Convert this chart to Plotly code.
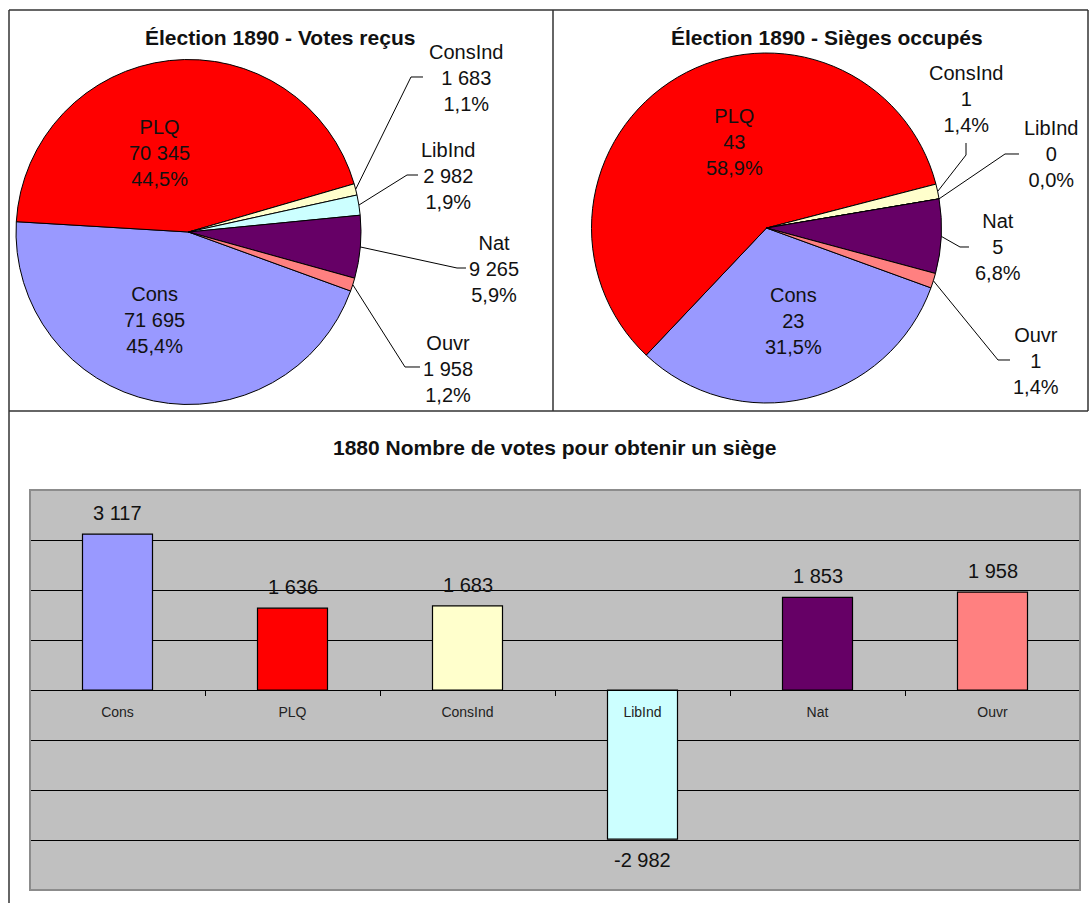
import math
import plotly.graph_objects as go

W, H = 1090, 903

# ---------------- data ----------------
parties = ["Cons", "PLQ", "ConsInd", "LibInd", "Nat", "Ouvr"]
votes = [71695, 70345, 1683, 2982, 9265, 1958]
seats = [23, 43, 1, 0, 5, 1]
votes_per_seat = [3117, 1636, 1683, -2982, 1853, 1958]
colors = ["#9999FF", "#FF0000", "#FFFFCC", "#CCFFFF", "#660066", "#FF8080"]

title_votes = "Élection 1890 - Votes reçus"
title_seats = "Élection 1890 - Sièges occupés"
title_bars = "1880 Nombre de votes pour obtenir un siège"

# ---------------- style / layout ----------------
FONT = "Liberation Sans, Arial, Helvetica, sans-serif"
TXT = "#111111"
ROT = 110


def fx(px):
    return px / W


def fy(py):
    return 1 - py / H


def fmt_int(v):
    return f"{v:,}".replace(",", " ")


def fmt_pct(v, tot):
    return f"{100 * v / tot:.1f}".replace(".", ",") + "%"


# pie geometry in pixels + label placement (text centre, leader path after edge point)
pies = [
    dict(values=votes, cx=188.5, cy=232, r=172.5, title=title_votes, tx=280, ty=37,
         labels={
             "Cons": (154, 320, None),
             "PLQ": (159, 153, None),
             "ConsInd": (466, 78, [(411, 77), (423, 77)]),
             "LibInd": (448, 176, [(407, 175), (418, 175)]),
             "Nat": (494, 269, [(457, 268), (466, 268)]),
             "Ouvr": (448, 369, [(405, 367), (420, 367)]),
         }),
    dict(values=seats, cx=766.5, cy=228, r=175, title=title_seats, tx=827, ty=37,
         labels={
             "Cons": (793, 321, None),
             "PLQ": (734, 142, None),
             "ConsInd": (966, 99, [(966, 155), (966, 143)]),
             "LibInd": (1051, 154, [(1005, 154), (1019, 154)]),
             "Nat": (998, 247, [(960, 247), (969, 247)]),
             "Ouvr": (1036, 361, [(998, 360), (1010, 360)]),
         }),
]

fig = go.Figure()
annotations = []
shapes = []

for p in pies:
    cx, cy, r = p["cx"], p["cy"], p["r"]
    fig.add_trace(go.Pie(
        labels=parties, values=p["values"], sort=False, direction="clockwise",
        rotation=ROT, textinfo="none", showlegend=False,
        marker=dict(colors=colors, line=dict(color="#000000", width=1)),
        domain=dict(x=[fx(cx - r), fx(cx + r)], y=[fy(cy + r), fy(cy - r)]),
    ))
    annotations.append(dict(
        text=f"<b>{p['title']}</b>", x=fx(p["tx"]), y=fy(p["ty"]), xref="paper", yref="paper",
        xanchor="center", yanchor="middle", showarrow=False,
        font=dict(family=FONT, size=21, color=TXT)))
    tot = sum(p["values"])
    acc = 0
    for name, v in zip(parties, p["values"]):
        mid = math.radians(ROT + 360 * (acc + v / 2) / tot)
        acc += v
        lx, ly, leader = p["labels"][name]
        annotations.append(dict(
            text=f"{name}<br>{fmt_int(v)}<br>{fmt_pct(v, tot)}",
            x=fx(lx), y=fy(ly), xref="paper", yref="paper",
            xanchor="center", yanchor="middle", showarrow=False, align="center",
            font=dict(family=FONT, size=20, color=TXT)))
        if leader:
            ex, ey = cx + r * math.sin(mid), cy - r * math.cos(mid)
            pts = [(ex, ey)] + leader
            path = "M " + " L ".join(f"{fx(a):.5f},{fy(b):.5f}" for a, b in pts)
            shapes.append(dict(type="path", path=path, xref="paper", yref="paper",
                               line=dict(color="#000000", width=1)))

# ---------------- bar chart ----------------
y_lo, y_hi = -4000, 4000
ydom = [fy(890), fy(490)]
zero_pos = ydom[0] + (0 - y_lo) / (y_hi - y_lo) * (ydom[1] - ydom[0])

fig.add_trace(go.Bar(
    x=parties, y=votes_per_seat, width=0.4, showlegend=False,
    marker=dict(color=colors, line=dict(color="#000000", width=1.2)),
    xaxis="x", yaxis="y",
))

for name, v in zip(parties, votes_per_seat):
    annotations.append(dict(
        text=fmt_int(v) if v >= 0 else "-" + fmt_int(-v), x=name, y=v, xref="x", yref="y",
        yshift=21 if v >= 0 else -21, showarrow=False, xanchor="center", yanchor="middle",
        font=dict(family=FONT, size=20, color=TXT)))

annotations.append(dict(
    text=f"<b>{title_bars}</b>", x=fx(555), y=fy(447), xref="paper", yref="paper",
    xanchor="center", yanchor="middle", showarrow=False,
    font=dict(family=FONT, size=21, color=TXT)))

# plot-area border
shapes.append(dict(type="rect", xref="x domain", yref="y domain", x0=0, x1=1, y0=0, y1=1,
                   line=dict(color="#8c8c8c", width=2), layer="above"))

# panel frame lines
frame = [
    ((9, 10), (1088, 10)),
    ((9, 10), (9, 903)),
    ((553, 10), (553, 411)),
    ((1088, 10), (1088, 411)),
    ((9, 411), (1088, 411)),
]
for (a, b), (c, d) in frame:
    shapes.append(dict(type="line", xref="paper", yref="paper",
                       x0=fx(a), y0=fy(b), x1=fx(c), y1=fy(d),
                       line=dict(color="#333333", width=1.5)))

fig.update_layout(
    width=W, height=H, margin=dict(l=0, r=0, t=0, b=0),
    paper_bgcolor="#FFFFFF", plot_bgcolor="#C0C0C0",
    font=dict(family=FONT, color=TXT),
    bargap=0.6,
    xaxis=dict(domain=[fx(30), fx(1080)], anchor="free", position=zero_pos,
               showline=True, linecolor="#000000", linewidth=1,
               ticks="outside", tickson="boundaries", ticklen=5, tickcolor="#000000",
               tickfont=dict(family=FONT, size=14, color="#222222"),
               ticklabelstandoff=9, showgrid=False, fixedrange=True),
    yaxis=dict(domain=ydom, range=[y_lo, y_hi], anchor="x",
               tickmode="array", tickvals=list(range(-3000, 3001, 1000)),
               showticklabels=False, ticks="", showgrid=True,
               gridcolor="#000000", gridwidth=1,
               zeroline=True, zerolinecolor="#000000", zerolinewidth=1,
               showline=False, fixedrange=True),
    annotations=annotations,
    shapes=shapes,
)

fig.write_html("out.html")
